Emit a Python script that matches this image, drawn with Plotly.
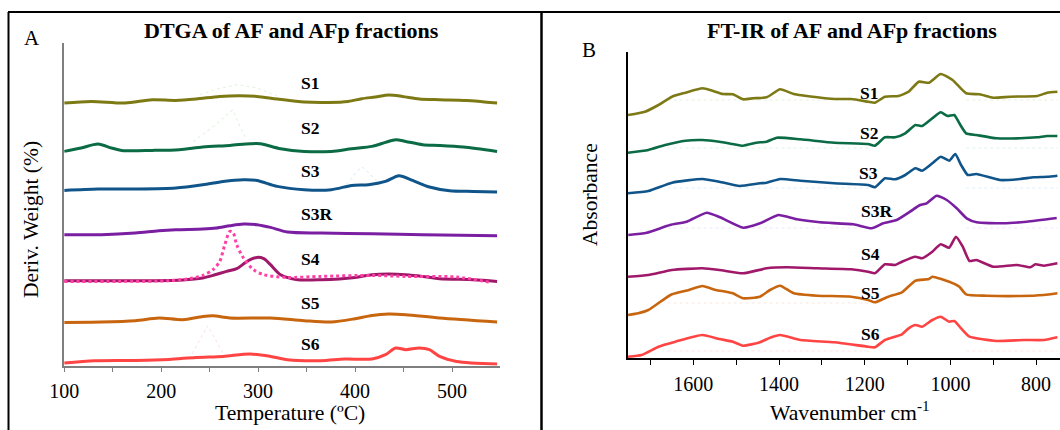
import plotly.graph_objects as go

W, H = 1060, 430
FONT = "Liberation Serif, Times New Roman, serif"

# ---------------- Panel A: DTGA (temperature in C, offset deriv. weight) ----------------
a_s1_t = [100, 127.9, 162.8, 190.7, 215.1, 236.0, 260.4, 281.4, 298.8, 319.7, 347.6, 372.1, 393.0, 406.9, 420.9, 434.8, 448.8, 466.2, 487.2, 515.1, 546.5]
a_s1_y = [262.7, 264.3, 262.7, 266, 265.3, 266.7, 269.3, 270, 269.3, 266.7, 263.7, 263.3, 264.3, 267, 268.7, 270.7, 269.3, 266.7, 266, 265.3, 262.7]

a_s2_t = [100, 117.4, 134.9, 148.8, 159.3, 190.7, 218.6, 243, 270.9, 291.8, 302.3, 323.2, 347.6, 375.5, 396.5, 417.4, 431.4, 441.8, 452.3, 469.7, 487.2, 511.6, 546.5]
a_s2_y = [214.3, 217.7, 221.7, 217.7, 215.3, 215.3, 216, 218.7, 220.3, 222, 222, 217, 214.3, 214.3, 217, 219.3, 223.3, 226, 224.3, 221, 220.3, 218.7, 214.3]

a_s3_t = [100, 134.9, 173.2, 215.1, 243, 263.9, 284.9, 298.8, 319.7, 347.6, 375.5, 396.5, 413.9, 431.4, 445.3, 459.3, 476.7, 497.6, 522, 546.5]
a_s3_y = [175.3, 176.7, 176.7, 177.7, 181, 184.3, 186, 185.3, 179.3, 176, 176, 180.3, 181, 184.3, 190, 185.3, 178.7, 175, 174.3, 173.7]

a_s3r_t = [100, 138.4, 173.2, 197.6, 215.1, 243, 257, 270.9, 284.9, 298.8, 312.8, 330.2, 365, 417.4, 469.7, 546.5]
a_s3r_y = [131, 131, 132.7, 135, 136, 136.7, 137.7, 140, 141.7, 141, 138.3, 133.7, 132.7, 132, 131, 130]

a_s4_t = [100, 138.4, 190.7, 222.1, 243, 253.5, 267.4, 277.9, 284.9, 291.8, 298.8, 305.8, 312.8, 323.2, 340.7, 365, 399.9, 417.4, 434.8, 452.3, 469.7, 487.2, 522, 546.5]
a_s4_y = [85, 85, 85, 85.7, 87.7, 90.3, 94.3, 97, 101.7, 106, 108.3, 107, 101, 91, 86, 86, 88.3, 91, 91.7, 91, 89.3, 87, 86, 84.3]

a_s4p_t = [100, 155.8, 208.1, 229, 243, 253.5, 260.4, 265.7, 270.9, 274.4, 277.9, 284.9, 295.3, 305.8, 330.2, 365, 417.4, 452.3, 504.6, 539.5]
a_s4p_y = [84.3, 84.3, 85, 87, 90.3, 96, 104.3, 121, 134.3, 132.7, 121, 107.7, 96, 91, 88.3, 89.3, 90.3, 89.3, 88.7, 83.3]

a_s5_t = [100, 138.4, 173.2, 197.6, 222.1, 243, 253.5, 270.9, 312.8, 347.6, 375.5, 399.9, 417.4, 434.8, 452.3, 487.2, 546.5]
a_s5_y = [43.3, 43.7, 45, 47.7, 46, 49.3, 50, 47.7, 47.7, 45, 43.7, 47, 50.3, 51.7, 51, 47.7, 43.7]

a_s6_t = [100, 131.4, 173.2, 208.1, 236, 263.9, 291.8, 312.8, 330.2, 365, 389.4, 417.4, 431.4, 441.8, 452.3, 466.2, 476.7, 487.2, 504.6, 546.5]
a_s6_y = [2.7, 5, 5.3, 6.3, 8.3, 9.3, 11.7, 9.3, 6, 5, 6.7, 6.7, 11, 17.7, 16, 17.7, 16, 9.3, 4.3, 1.7]

# faint background traces (panel A)
a_f1_t = [240, 259, 278, 298, 319]
a_f1_y = [271, 277, 281, 278, 270]
a_f2_t = [233, 255, 274, 281, 288]
a_f2_y = [224, 240, 256, 240, 226]
a_f3_t = [391, 400, 407, 415, 426]
a_f3_y = [181, 192, 199, 192, 181]
a_f4_t = [232, 241, 248, 255, 264]
a_f4_y = [12, 28, 40, 28, 12]

a_labels = ["S1", "S2", "S3", "S3R", "S4", "S5", "S6"]
a_label_t = [354, 354, 354, 360, 354, 354, 354]
a_label_y = [282.5, 238, 194.5, 152, 107, 63, 21.5]

# ---------------- Panel B: FT-IR (wavenumber, offset absorbance) ----------------
b_s1_w = [1752.3, 1712.8, 1681.3, 1649.7, 1618.1, 1578.7, 1555, 1531.4, 1507.7, 1484, 1460.4, 1428.8, 1397.2, 1365.7, 1310.4, 1271, 1231.6, 1192.1, 1176.3, 1152.7, 1121.1, 1097.4, 1073.8, 1050.1, 1022.5, 994.9, 963.3, 931.8, 900.2, 860.8, 797.6, 774, 750.3]
b_s1_y = [243, 246.3, 253, 261.3, 265.3, 269.7, 267.3, 264, 263.7, 258.7, 259.7, 260.7, 268.7, 264, 260.7, 259, 259, 256.3, 255.3, 261.3, 262, 266.3, 276.3, 275.3, 284, 278, 264.7, 263.7, 260.3, 261.3, 262, 265.3, 266.3]

b_s2_w = [1752.3, 1704.9, 1665.5, 1618.1, 1578.7, 1539.3, 1507.7, 1484, 1452.5, 1428.8, 1405.1, 1349.9, 1271, 1192.1, 1176.3, 1152.7, 1129, 1105.3, 1081.7, 1065.9, 1042.2, 1022.5, 1006.7, 990.9, 979.1, 963.3, 939.6, 892.3, 837.1, 797.6, 774, 750.3]
b_s2_y = [205.3, 208, 213, 217.3, 218, 216.3, 214, 212.3, 215.3, 216.3, 220.3, 218.7, 215.3, 214, 212.3, 220.7, 220.7, 224.7, 233, 232, 239.7, 245.7, 242, 243, 234.7, 224.7, 223, 219.7, 219.7, 220.7, 222, 222]

b_s3_w = [1752.3, 1704.9, 1649.7, 1578.7, 1539.3, 1491.9, 1444.6, 1428.8, 1397.2, 1349.9, 1271, 1192.1, 1176.3, 1152.7, 1129, 1105.3, 1081.7, 1065.9, 1042.2, 1022.5, 1002.8, 988.6, 975.1, 959.4, 939.6, 884.4, 837.1, 805.5, 774, 750.3]
b_s3_y = [164.7, 167, 175.3, 179, 176.3, 172, 174.7, 175.3, 179, 177.3, 174.7, 173, 170.7, 179.7, 178.7, 183, 189.7, 187.3, 194.7, 201.3, 197.3, 204, 193, 183, 184, 178, 179, 180.7, 181.3, 182.3]

b_s3r_w = [1751.7, 1708.8, 1654.4, 1615.4, 1568.7, 1537.7, 1483.3, 1444.3, 1401.6, 1358.7, 1304.3, 1226.6, 1183.7, 1156.6, 1125.3, 1094.3, 1070.9, 1055.3, 1032.0, 1008.6, 985.3, 962.0, 938.6, 876.5, 821.9, 751.9]
b_s3r_y = [123, 125.3, 133, 136.3, 145.3, 140.7, 130.3, 134.7, 143, 138.7, 135.7, 133.7, 129.7, 134.7, 138, 146.3, 153, 154.7, 162.3, 158, 149.7, 139.7, 135.7, 134.7, 136.3, 140]

b_s4_w = [1752.3, 1704.9, 1649.7, 1578.7, 1539.3, 1484, 1428.8, 1381.5, 1310.4, 1231.6, 1192.1, 1176.3, 1152.7, 1129, 1113.2, 1081.7, 1065.9, 1042.2, 1022.5, 1002.8, 987, 971.2, 955.4, 939.6, 900.2, 844.9, 813.4, 801.6, 781.9, 750.3]
b_s4_y = [81.3, 83, 88, 89.7, 88, 84.7, 89.7, 90.7, 89.7, 88.7, 86.3, 84.7, 93.7, 93, 96.3, 101.3, 99.7, 106.3, 113.7, 110.3, 121.3, 111.3, 97, 98, 91.3, 93, 90.7, 93.7, 92.3, 94.7]

b_s5_w = [1752.3, 1728.6, 1704.9, 1665.5, 1649.7, 1610.3, 1578.7, 1547.1, 1523.5, 1507.7, 1484, 1444.6, 1420.9, 1397.2, 1365.7, 1310.4, 1231.6, 1192.1, 1176.3, 1144.8, 1113.2, 1081.7, 1050.1, 1042.2, 1002.8, 979.1, 963.3, 915.9, 837.1, 781.9, 750.3]
b_s5_y = [43, 44.7, 48, 59.7, 63.7, 68, 72, 68, 66.3, 64.7, 59.7, 61.3, 68, 72.3, 64.7, 62.3, 61.3, 58, 55.7, 61.3, 65.7, 77.3, 79, 81.3, 76.3, 71.3, 63.7, 62.3, 62, 63, 64.7]

b_s6_w = [1752.3, 1720.7, 1681.3, 1641.8, 1578.7, 1539.3, 1507.7, 1484, 1444.6, 1420.9, 1397.2, 1349.9, 1271, 1192.1, 1176.3, 1152.7, 1113.2, 1097.4, 1081.7, 1065.9, 1042.2, 1022.5, 1002.8, 991, 975.1, 955.4, 892.3, 829.2, 781.9, 750.3]
b_s6_y = [1.3, 3, 11.3, 16.3, 23, 19, 16.3, 12.3, 15.7, 20.3, 23, 18, 15.7, 11.3, 10.7, 18, 23.7, 29.7, 33, 31.3, 38, 41.3, 36.3, 37, 29.7, 21.3, 17, 18, 18, 20.7]

# faint dotted background baselines (panel B)
b_f_w = [1660, 1500, 1350, 1190, None, 963, 850, 750]
b_f1_y = [258, 258, 258, 258, None, 258, 258, 258]
b_f2_y = [210, 210, 210, 210, None, 210, 210, 210]
b_f3_y = [170, 170, 170, 170, None, 170, 170, 170]
b_f3r_y = [130, 130, 130, 130, None, 130, 130, 130]
b_f5_y = [55, 55, 55, 55, None, None, None, None]
b_f6_y = [7, 7, 7, 7, None, 7, 7, 7]

b_labels = ["S1", "S2", "S3", "S3R", "S4", "S5", "S6"]
b_label_w = [1190, 1190, 1190, 1172, 1186, 1186, 1186]
b_label_y = [265, 225.5, 185.5, 147, 104.5, 65.5, 24]

COLORS = {
    "S1": "#7d7a16", "S2": "#0b6b45", "S3": "#10558a", "S3R": "#7b1fa2",
    "S4": "#a0186a", "S4p": "#ff40a6", "S5": "#c8650f", "S6": "#ff4444",
}

fig = go.Figure()

def add(x, y, color, xa, ya, width=3, dash="solid", shape="spline", smoothing=0.8):
    line = dict(color=color, width=width, dash=dash, shape=shape)
    if shape == "spline":
        line["smoothing"] = smoothing
    fig.add_trace(go.Scatter(x=x, y=y, mode="lines", line=line, xaxis=xa, yaxis=ya,
                             hoverinfo="skip", showlegend=False, connectgaps=False))

# faint traces first (A)
for tx, ty, c in [(a_f1_t, a_f1_y, "#e4f5e4"), (a_f2_t, a_f2_y, "#e4f5e4"),
                  (a_f3_t, a_f3_y, "#e2f1f4"), (a_f4_t, a_f4_y, "#fbe6ef")]:
    add(tx, ty, c, "x", "y", width=1.2, dash="dot", shape="linear")

# faint traces (B)
for ty, c in [(b_f1_y, "#e6f2de"), (b_f2_y, "#e0f3e6"), (b_f3_y, "#e0eff5"),
              (b_f3r_y, "#f1e6f5"), (b_f5_y, "#fae8df"), (b_f6_y, "#fde5e5")]:
    add(b_f_w, ty, c, "x2", "y2", width=1.2, dash="dot", shape="linear")

# panel A curves
add(a_s1_t, a_s1_y, COLORS["S1"], "x", "y")
add(a_s2_t, a_s2_y, COLORS["S2"], "x", "y")
add(a_s3_t, a_s3_y, COLORS["S3"], "x", "y")
add(a_s3r_t, a_s3r_y, COLORS["S3R"], "x", "y")
add(a_s4_t, a_s4_y, COLORS["S4"], "x", "y")
add(a_s4p_t, a_s4p_y, COLORS["S4p"], "x", "y", width=3, dash="dot")
add(a_s5_t, a_s5_y, COLORS["S5"], "x", "y")
add(a_s6_t, a_s6_y, COLORS["S6"], "x", "y")

# panel B curves
for wx, wy, key in [(b_s1_w, b_s1_y, "S1"), (b_s2_w, b_s2_y, "S2"), (b_s3_w, b_s3_y, "S3"),
                    (b_s3r_w, b_s3r_y, "S3R"), (b_s4_w, b_s4_y, "S4"), (b_s5_w, b_s5_y, "S5"),
                    (b_s6_w, b_s6_y, "S6")]:
    add(wx, wy, COLORS[key], "x2", "y2", width=2.6, smoothing=0.5)

# curve labels
for lab, tx, ty in zip(a_labels, a_label_t, a_label_y):
    fig.add_annotation(x=tx, y=ty, xref="x", yref="y", text="<b>%s</b>" % lab,
                       showarrow=False, font=dict(family=FONT, size=17.5, color="black"))
for lab, tx, ty in zip(b_labels, b_label_w, b_label_y):
    fig.add_annotation(x=tx, y=ty, xref="x2", yref="y2", text="<b>%s</b>" % lab,
                       showarrow=False, font=dict(family=FONT, size=17.5, color="black"))

def px(xp):
    return xp / W

def py(yp):
    return 1 - yp / H

def note(text, x, y, size=21, angle=0):
    fig.add_annotation(x=px(x), y=py(y), xref="paper", yref="paper", text=text,
                       showarrow=False, textangle=angle, xanchor="center", yanchor="middle",
                       font=dict(family=FONT, size=size, color="black"))

note("<b>DTGA of AF and AFp fractions</b>", 291, 31, size=22)
note("<b>FT-IR of AF and AFp fractions</b>", 852, 31, size=22)
note("A", 32, 38, size=21)
note("B", 589, 50, size=21)
note("Deriv. Weight (%)", 31, 220, size=21.5, angle=-90)
note("Absorbance", 590, 195, size=21.5, angle=-90)
note("Temperature (ºC)", 290, 413, size=21.7)
note("Wavenumber cm<sup>-1</sup>", 850, 411, size=21.7)

tickfont = dict(family=FONT, size=20, color="black")

fig.update_layout(
    width=W, height=H,
    margin=dict(l=0, r=0, t=0, b=0, autoexpand=False),
    paper_bgcolor="white", plot_bgcolor="white",
    showlegend=False,
    xaxis=dict(domain=[px(64.2), px(499.5)], range=[100, 549], anchor="y", automargin=False,
               showgrid=False, zeroline=False, showline=True, linecolor="#7f7f7f", linewidth=1.5,
               ticks="outside", ticklen=5, tickcolor="#7f7f7f", tickwidth=1.2,
               tick0=100, dtick=100, tickfont=tickfont, ticklabelstandoff=2,
               minor=dict(dtick=50, tick0=100, ticks="outside", ticklen=5, tickcolor="#7f7f7f", tickwidth=1.2)),
    yaxis=dict(domain=[py(365.7), py(43.3)], range=[0, 322.4], anchor="x", automargin=False,
               showgrid=False, zeroline=False, showline=True, linecolor="#7f7f7f", linewidth=1.5,
               showticklabels=False, ticks=""),
    xaxis2=dict(domain=[px(628), 1.0], range=[1752.4, 744.2], anchor="y2", automargin=False,
                showgrid=False, zeroline=False, showline=True, linecolor="black", linewidth=1.5,
                ticks="outside", ticklen=5, tickcolor="black", tickwidth=1.2,
                tick0=0, dtick=200, tickfont=tickfont, ticklabelstandoff=2,
                minor=dict(dtick=100, ticks="outside", ticklen=5, tickcolor="black", tickwidth=1.2)),
    yaxis2=dict(domain=[py(358.3), py(52.3)], range=[-0.3, 305.7], anchor="x2", automargin=False,
                showgrid=False, zeroline=False, showline=True, linecolor="black", linewidth=1.5,
                showticklabels=False, ticks=""),
    shapes=[
        dict(type="line", xref="paper", yref="paper", x0=px(8), x1=1.0, y0=py(12), y1=py(12),
             line=dict(color="black", width=2)),
        dict(type="line", xref="paper", yref="paper", x0=px(8.5), x1=px(8.5), y0=py(12), y1=0,
             line=dict(color="black", width=2)),
        dict(type="line", xref="paper", yref="paper", x0=px(541.5), x1=px(541.5), y0=py(12), y1=0,
             line=dict(color="black", width=2.5)),
    ],
)

fig.write_html("out.html")
